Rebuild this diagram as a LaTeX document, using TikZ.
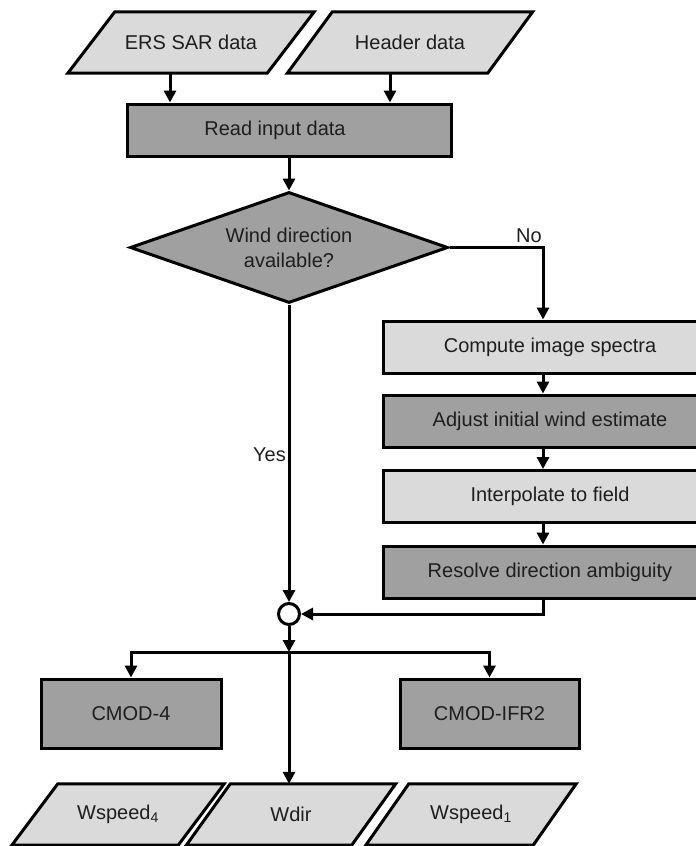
\documentclass[tikz,border=0pt]{standalone}
\usepackage{fontspec}
\setmainfont{Liberation Sans}
\usetikzlibrary{shapes.geometric,arrows.meta,backgrounds,calc}
\definecolor{boxlight}{HTML}{DADADA}
\definecolor{boxdark}{HTML}{A0A0A0}
\definecolor{ink}{HTML}{1E1E1E}

\begin{document}
\begin{tikzpicture}[x=1pt,y=-1pt,
  every node/.style={font=\fontsize{20}{25}\selectfont, text=ink},
  proc/.style={draw=black, line width=3pt, minimum height=52pt, inner sep=0pt},
  light/.style={proc, fill=boxlight},
  dark/.style={proc, fill=boxdark},
  iobox/.style={minimum height=61pt, inner sep=0pt},
  arr/.style={line width=3pt, -{Triangle[length=12pt,width=12pt]}},
  plain/.style={line width=3pt},
  ]
  \path[use as bounding box, clip] (0,0) rectangle (696,846);

  % input / output parallelogram labels
  \node[iobox, minimum width=199pt] (ers) at (191,42.5) {ERS SAR data};
  \node[iobox, minimum width=200pt] (hdr) at (410,42.5) {Header data};
  \node[iobox, minimum width=166pt] (ws4) at (118,814.5) {Wspeed\textsubscript{4}};
  \node[iobox, minimum width=165pt] (wdir) at (291,814.5) {Wdir};
  \node[iobox, minimum width=167pt] (ws1) at (471,814.5) {Wspeed\textsubscript{1}};

  % process boxes
  \node[dark, minimum width=324pt] (read) at (289,130) {\hspace*{-28pt}Read input data};
  \node[draw=black, line width=3pt, fill=boxdark, diamond, shape aspect=2.86,
        minimum width=318pt, minimum height=111pt, inner sep=0pt, align=center]
        (dia) at (289,247.5) {Wind direction\\available?};
  \node[light, minimum width=334pt] (comp) at (550,347) {Compute image spectra};
  \node[dark, minimum width=334pt] (adj) at (550,421) {Adjust initial wind estimate};
  \node[light, minimum width=334pt] (interp) at (550,496.5) {Interpolate to field};
  \node[dark, minimum width=334pt] (res) at (550,572) {Resolve direction ambiguity};
  \node[circle, draw=black, line width=3pt, fill=white, minimum size=21pt, inner sep=0pt] (join) at (289,614) {};
  \node[dark, minimum width=180pt, minimum height=69pt] (cm4) at (131,713.5) {CMOD-4};
  \node[dark, minimum width=179pt, minimum height=69pt] (cmi) at (489.5,713.5) {CMOD-IFR2};

  % parallelogram outlines behind the labels
  \begin{scope}[on background layer]
    \foreach \n/\s in {ers/23.5,hdr/22.5,ws4/23,wdir/22,ws1/21.5}
      \draw[plain, fill=boxlight]
        ([xshift=\s pt]\n.north west) -- ([xshift=\s pt]\n.north east)
        -- ([xshift=-\s pt]\n.south east) -- ([xshift=-\s pt]\n.south west) -- cycle;
  \end{scope}

  % connectors
  \coordinate (nc) at (543,247.5);
  \coordinate (split) at (289,652);
  \draw[arr] ([xshift=-21pt]ers.south) -- ([xshift=-21pt]ers.south |- read.north);
  \draw[arr] ([xshift=-20pt]hdr.south) -- ([xshift=-20pt]hdr.south |- read.north);
  \draw[arr] (read.south) -- (dia.north);
  \draw[arr] (dia.east) -| (comp.north -| nc);
  \draw[arr] (comp.south -| nc) -- (adj.north -| nc);
  \draw[arr] (adj.south -| nc) -- (interp.north -| nc);
  \draw[arr] (interp.south -| nc) -- (res.north -| nc);
  \draw[arr] (res.south -| nc) |- (join.east);
  \draw[arr] (dia.south) -- (join.north);
  \draw[arr] (join.south) -- (split);
  \draw[arr] (split) -| (cm4.north);
  \draw[arr] (split) -| (cmi.north);
  \draw[arr] (split) -- (split |- wdir.north);

  % branch labels
  \node[anchor=east, inner sep=1pt] (no) at (543,236) {No};
  \node[anchor=east, inner sep=1pt] (yes) at (287,455) {Yes};
\end{tikzpicture}
\end{document}
